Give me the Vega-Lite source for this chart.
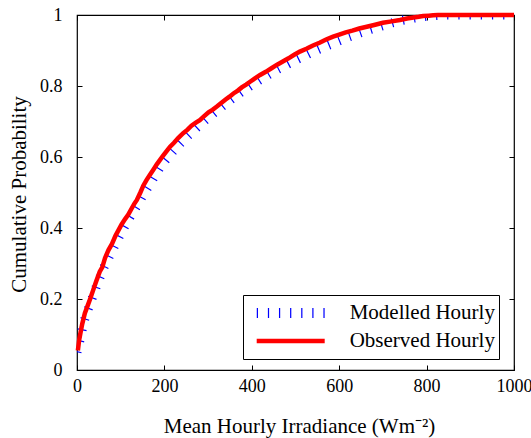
{
  "$schema": "https://vega.github.io/schema/vega-lite/v6.json",
  "width": 437,
  "height": 355,
  "autosize": "none",
  "padding": {"left": 77, "top": 15, "right": 17, "bottom": 68},
  "background": "white",
  "config": {
    "view": {"stroke": "black", "strokeWidth": 1.2},
    "font": "Liberation Serif",
    "axis": {
      "domain": false, "grid": false, "tickColor": "black", "tickSize": -5, "tickWidth": 1,
      "labelFont": "Liberation Serif", "labelFontSize": 18, "labelColor": "black",
      "titleFont": "Liberation Serif", "titleFontSize": 21, "titleFontWeight": "normal", "titleColor": "black"
    }
  },
  "datasets": {
    "cdf": [
      {"series": "Modelled Hourly", "x": 0, "p": 0.05},
      {"series": "Modelled Hourly", "x": 4, "p": 0.07},
      {"series": "Modelled Hourly", "x": 8, "p": 0.09},
      {"series": "Modelled Hourly", "x": 12, "p": 0.115},
      {"series": "Modelled Hourly", "x": 17, "p": 0.14},
      {"series": "Modelled Hourly", "x": 22, "p": 0.16},
      {"series": "Modelled Hourly", "x": 28, "p": 0.18},
      {"series": "Modelled Hourly", "x": 34, "p": 0.2},
      {"series": "Modelled Hourly", "x": 40, "p": 0.22},
      {"series": "Modelled Hourly", "x": 47, "p": 0.245},
      {"series": "Modelled Hourly", "x": 54, "p": 0.265},
      {"series": "Modelled Hourly", "x": 62, "p": 0.29},
      {"series": "Modelled Hourly", "x": 70, "p": 0.31},
      {"series": "Modelled Hourly", "x": 78, "p": 0.33},
      {"series": "Modelled Hourly", "x": 87, "p": 0.352},
      {"series": "Modelled Hourly", "x": 96, "p": 0.374},
      {"series": "Modelled Hourly", "x": 105, "p": 0.395},
      {"series": "Modelled Hourly", "x": 114, "p": 0.415},
      {"series": "Modelled Hourly", "x": 123, "p": 0.434},
      {"series": "Modelled Hourly", "x": 132, "p": 0.452},
      {"series": "Modelled Hourly", "x": 141, "p": 0.47},
      {"series": "Modelled Hourly", "x": 150, "p": 0.49},
      {"series": "Modelled Hourly", "x": 160, "p": 0.51},
      {"series": "Modelled Hourly", "x": 170, "p": 0.53},
      {"series": "Modelled Hourly", "x": 180, "p": 0.55},
      {"series": "Modelled Hourly", "x": 190, "p": 0.57},
      {"series": "Modelled Hourly", "x": 200, "p": 0.587},
      {"series": "Modelled Hourly", "x": 212, "p": 0.605},
      {"series": "Modelled Hourly", "x": 225, "p": 0.623},
      {"series": "Modelled Hourly", "x": 238, "p": 0.64},
      {"series": "Modelled Hourly", "x": 252, "p": 0.657},
      {"series": "Modelled Hourly", "x": 266, "p": 0.673},
      {"series": "Modelled Hourly", "x": 280, "p": 0.689},
      {"series": "Modelled Hourly", "x": 295, "p": 0.705},
      {"series": "Modelled Hourly", "x": 310, "p": 0.72},
      {"series": "Modelled Hourly", "x": 325, "p": 0.735},
      {"series": "Modelled Hourly", "x": 340, "p": 0.75},
      {"series": "Modelled Hourly", "x": 356, "p": 0.765},
      {"series": "Modelled Hourly", "x": 372, "p": 0.779},
      {"series": "Modelled Hourly", "x": 388, "p": 0.793},
      {"series": "Modelled Hourly", "x": 405, "p": 0.807},
      {"series": "Modelled Hourly", "x": 422, "p": 0.82},
      {"series": "Modelled Hourly", "x": 440, "p": 0.833},
      {"series": "Modelled Hourly", "x": 458, "p": 0.846},
      {"series": "Modelled Hourly", "x": 477, "p": 0.858},
      {"series": "Modelled Hourly", "x": 496, "p": 0.87},
      {"series": "Modelled Hourly", "x": 516, "p": 0.882},
      {"series": "Modelled Hourly", "x": 536, "p": 0.894},
      {"series": "Modelled Hourly", "x": 557, "p": 0.905},
      {"series": "Modelled Hourly", "x": 578, "p": 0.916},
      {"series": "Modelled Hourly", "x": 600, "p": 0.927},
      {"series": "Modelled Hourly", "x": 622, "p": 0.938},
      {"series": "Modelled Hourly", "x": 645, "p": 0.948},
      {"series": "Modelled Hourly", "x": 668, "p": 0.958},
      {"series": "Modelled Hourly", "x": 692, "p": 0.967},
      {"series": "Modelled Hourly", "x": 716, "p": 0.976},
      {"series": "Modelled Hourly", "x": 740, "p": 0.984},
      {"series": "Modelled Hourly", "x": 765, "p": 0.99},
      {"series": "Modelled Hourly", "x": 790, "p": 0.995},
      {"series": "Modelled Hourly", "x": 815, "p": 0.998},
      {"series": "Modelled Hourly", "x": 840, "p": 1.0},
      {"series": "Modelled Hourly", "x": 1000, "p": 1.0},
      {"series": "Observed Hourly", "x": 2, "p": 0.055},
      {"series": "Observed Hourly", "x": 5, "p": 0.085},
      {"series": "Observed Hourly", "x": 8, "p": 0.105},
      {"series": "Observed Hourly", "x": 12, "p": 0.13},
      {"series": "Observed Hourly", "x": 18, "p": 0.16},
      {"series": "Observed Hourly", "x": 24, "p": 0.18},
      {"series": "Observed Hourly", "x": 30, "p": 0.2},
      {"series": "Observed Hourly", "x": 37, "p": 0.225},
      {"series": "Observed Hourly", "x": 44, "p": 0.25},
      {"series": "Observed Hourly", "x": 52, "p": 0.277},
      {"series": "Observed Hourly", "x": 58, "p": 0.29},
      {"series": "Observed Hourly", "x": 64, "p": 0.315},
      {"series": "Observed Hourly", "x": 72, "p": 0.338},
      {"series": "Observed Hourly", "x": 80, "p": 0.355},
      {"series": "Observed Hourly", "x": 88, "p": 0.378},
      {"series": "Observed Hourly", "x": 95, "p": 0.394},
      {"series": "Observed Hourly", "x": 102, "p": 0.41},
      {"series": "Observed Hourly", "x": 110, "p": 0.425},
      {"series": "Observed Hourly", "x": 117, "p": 0.437},
      {"series": "Observed Hourly", "x": 125, "p": 0.455},
      {"series": "Observed Hourly", "x": 131, "p": 0.468},
      {"series": "Observed Hourly", "x": 137, "p": 0.479},
      {"series": "Observed Hourly", "x": 145, "p": 0.5},
      {"series": "Observed Hourly", "x": 152, "p": 0.52},
      {"series": "Observed Hourly", "x": 159, "p": 0.535},
      {"series": "Observed Hourly", "x": 167, "p": 0.55},
      {"series": "Observed Hourly", "x": 175, "p": 0.565},
      {"series": "Observed Hourly", "x": 183, "p": 0.58},
      {"series": "Observed Hourly", "x": 190, "p": 0.592},
      {"series": "Observed Hourly", "x": 198, "p": 0.605},
      {"series": "Observed Hourly", "x": 206, "p": 0.618},
      {"series": "Observed Hourly", "x": 213, "p": 0.629},
      {"series": "Observed Hourly", "x": 222, "p": 0.64},
      {"series": "Observed Hourly", "x": 232, "p": 0.654},
      {"series": "Observed Hourly", "x": 243, "p": 0.667},
      {"series": "Observed Hourly", "x": 253, "p": 0.677},
      {"series": "Observed Hourly", "x": 262, "p": 0.688},
      {"series": "Observed Hourly", "x": 272, "p": 0.697},
      {"series": "Observed Hourly", "x": 281, "p": 0.704},
      {"series": "Observed Hourly", "x": 291, "p": 0.715},
      {"series": "Observed Hourly", "x": 301, "p": 0.726},
      {"series": "Observed Hourly", "x": 310, "p": 0.733},
      {"series": "Observed Hourly", "x": 320, "p": 0.742},
      {"series": "Observed Hourly", "x": 330, "p": 0.752},
      {"series": "Observed Hourly", "x": 340, "p": 0.762},
      {"series": "Observed Hourly", "x": 349, "p": 0.77},
      {"series": "Observed Hourly", "x": 358, "p": 0.779},
      {"series": "Observed Hourly", "x": 368, "p": 0.787},
      {"series": "Observed Hourly", "x": 377, "p": 0.796},
      {"series": "Observed Hourly", "x": 387, "p": 0.804},
      {"series": "Observed Hourly", "x": 396, "p": 0.812},
      {"series": "Observed Hourly", "x": 408, "p": 0.822},
      {"series": "Observed Hourly", "x": 419, "p": 0.831},
      {"series": "Observed Hourly", "x": 432, "p": 0.84},
      {"series": "Observed Hourly", "x": 445, "p": 0.85},
      {"series": "Observed Hourly", "x": 458, "p": 0.86},
      {"series": "Observed Hourly", "x": 471, "p": 0.869},
      {"series": "Observed Hourly", "x": 484, "p": 0.878},
      {"series": "Observed Hourly", "x": 497, "p": 0.888},
      {"series": "Observed Hourly", "x": 510, "p": 0.897},
      {"series": "Observed Hourly", "x": 525, "p": 0.905},
      {"series": "Observed Hourly", "x": 540, "p": 0.914},
      {"series": "Observed Hourly", "x": 555, "p": 0.922},
      {"series": "Observed Hourly", "x": 570, "p": 0.931},
      {"series": "Observed Hourly", "x": 586, "p": 0.939},
      {"series": "Observed Hourly", "x": 600, "p": 0.945},
      {"series": "Observed Hourly", "x": 615, "p": 0.951},
      {"series": "Observed Hourly", "x": 630, "p": 0.956},
      {"series": "Observed Hourly", "x": 646, "p": 0.962},
      {"series": "Observed Hourly", "x": 663, "p": 0.967},
      {"series": "Observed Hourly", "x": 680, "p": 0.972},
      {"series": "Observed Hourly", "x": 700, "p": 0.978},
      {"series": "Observed Hourly", "x": 720, "p": 0.982},
      {"series": "Observed Hourly", "x": 739, "p": 0.986},
      {"series": "Observed Hourly", "x": 755, "p": 0.99},
      {"series": "Observed Hourly", "x": 770, "p": 0.993},
      {"series": "Observed Hourly", "x": 782, "p": 0.995},
      {"series": "Observed Hourly", "x": 792, "p": 0.997},
      {"series": "Observed Hourly", "x": 805, "p": 0.998},
      {"series": "Observed Hourly", "x": 815, "p": 0.999},
      {"series": "Observed Hourly", "x": 826, "p": 1.0},
      {"series": "Observed Hourly", "x": 1000, "p": 1.0}
    ]
  },
  "data": {"name": "cdf"},
  "resolve": {"axis": {"x": "independent", "y": "independent"}},
  "layer": [
    {
      "transform": [{"filter": "datum.series === 'Modelled Hourly'"}],
      "mark": {"type": "line", "strokeWidth": 9, "strokeDash": [1.2, 10], "strokeCap": "butt", "clip": true},
      "encoding": {
        "x": {"field": "x", "type": "quantitative", "scale": {"domain": [0, 1000], "nice": false, "zero": false},
              "axis": {"title": "Mean Hourly Irradiance (Wm⁻²)", "values": [0, 200, 400, 600, 800, 1000], "format": "d",
                       "labelPadding": 12, "labelFlush": false, "labelOverlap": false,
                       "titleX": 222, "titleY": 62, "titleBaseline": "alphabetic", "titleAlign": "center"}},
        "y": {"field": "p", "type": "quantitative", "scale": {"domain": [0, 1], "nice": false, "zero": false},
              "axis": {"title": "Cumulative Probability", "values": [0, 0.2, 0.4, 0.6, 0.8, 1], "format": "~g",
                       "labelPadding": 20, "labelFlush": false, "labelOverlap": false,
                       "titleX": -52, "titleY": 179, "titleAngle": -90, "titleBaseline": "alphabetic", "titleAlign": "center"}},
        "color": {
          "field": "series", "type": "nominal",
          "scale": {"domain": ["Modelled Hourly", "Observed Hourly"], "range": ["#0000ff", "#ff0000"]},
          "legend": {
            "title": null, "orient": "none", "legendX": 166, "legendY": 280,
            "strokeColor": "black", "fillColor": "white", "padding": 4,
            "symbolSize": 4624, "symbolStrokeWidth": 0, "symbolOffset": 9.7, "clipHeight": 28, "rowPadding": 0,
            "labelFont": "Liberation Serif", "labelFontSize": 21, "labelColor": "black", "labelOffset": 25,
            "labelExpr": "datum.label + '   '",
            "encode": {
              "symbols": {
                "update": {
                  "shape": {"signal": "datum.value === 'Modelled Hourly' ? 'M-0.998,-0.147H-0.962V0.147H-0.998Z M-0.671,-0.147H-0.635V0.147H-0.671Z M-0.345,-0.147H-0.309V0.147H-0.345Z M-0.018,-0.147H0.018V0.147H-0.018Z M0.309,-0.147H0.345V0.147H0.309Z M0.635,-0.147H0.671V0.147H0.635Z M0.962,-0.147H0.998V0.147H0.962Z' : 'M-1,-0.066H1V0.066H-1Z'"},
                  "fill": {"signal": "datum.value === 'Modelled Hourly' ? '#0000ff' : '#ff0000'"},
                  "stroke": {"value": "transparent"},
                  "strokeWidth": {"value": 0},
                  "strokeDash": {"value": [1, 0]},
                  "opacity": {"value": 1},
                  "fillOpacity": {"value": 1}
                }
              }
            }
          }
        }
      }
    },
    {
      "transform": [{"filter": "datum.series === 'Observed Hourly'"}],
      "mark": {"type": "line", "strokeWidth": 4.5, "clip": false},
      "encoding": {
        "x": {"field": "x", "type": "quantitative", "axis": null},
        "y": {"field": "p", "type": "quantitative", "axis": null},
        "color": {"field": "series", "type": "nominal"}
      }
    },
    {
      "mark": {"type": "line", "opacity": 0},
      "encoding": {
        "x": {"field": "x", "type": "quantitative", "axis": {"orient": "top", "labels": false, "title": null, "values": [0, 200, 400, 600, 800, 1000]}},
        "y": {"field": "p", "type": "quantitative", "axis": {"orient": "right", "labels": false, "title": null, "values": [0, 0.2, 0.4, 0.6, 0.8, 1]}},
        "detail": {"field": "series", "type": "nominal"}
      }
    }
  ]
}
